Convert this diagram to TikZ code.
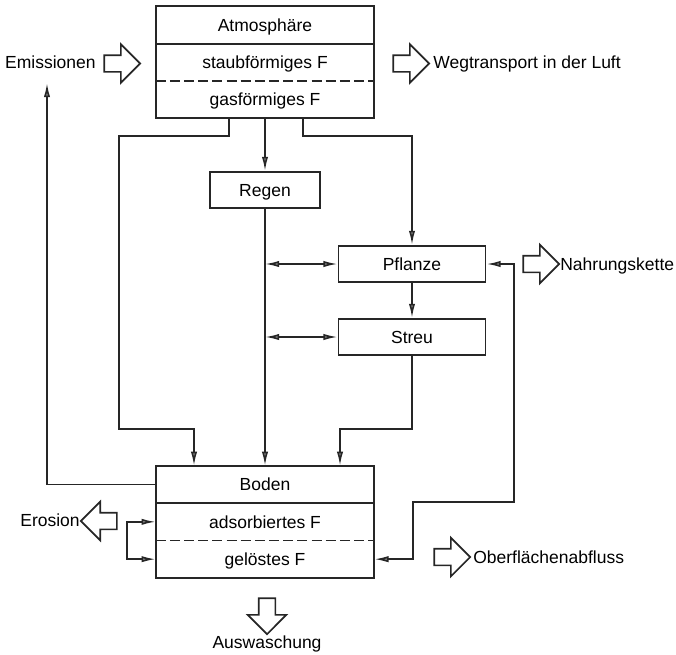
\documentclass[tikz,border=0pt]{standalone}
\usepackage{fontspec}
\setmainfont{Liberation Sans}
\usetikzlibrary{positioning,arrows.meta,shapes.arrows}
\begin{document}
\begin{tikzpicture}[x=0.6pt,y=-0.6pt,
    font=\fontsize{10.5}{12.6}\selectfont,
    layer/.style={rectangle,inner sep=0pt,minimum width=130.8pt,minimum height=22pt,text height=7.5pt,text depth=0pt},
    box/.style={draw=black!85,rectangle,line width=1.1pt,inner sep=0pt,minimum height=21.8pt,text height=7.5pt,text depth=0pt},
    fat/.style={single arrow,draw=black!85,line width=1pt,fill=white,inner sep=4.5pt,minimum height=21.6pt,single arrow head extend=6.6pt,single arrow tip angle=90},
    flow/.style={draw=black!85,line width=1pt,-{Latex[length=8.5pt,width=3.8pt,fill=black!40]}},
    both/.style={flow,{Latex[length=8.5pt,width=3.8pt,fill=black!40]}-{Latex[length=8.5pt,width=3.8pt,fill=black!40]}},
    lbl/.style={inner sep=0pt}
  ]
  \useasboundingbox (0,0) rectangle (676,654);

  \node[layer] (atmo) at (265,25) {Atmosphäre};
  \node[layer,below=0pt of atmo] (staub) {staubförmiges F};
  \node[layer,below=0pt of staub] (gas) {gasförmiges F};
  \draw[line width=1.1pt,draw=black!85] (atmo.north west) rectangle (gas.south east);
  \draw[line width=1.1pt,draw=black!85] (atmo.south west) -- (atmo.south east);
  \draw[line width=1.1pt,draw=black!85,dash pattern=on 6pt off 2.5pt] (staub.south west) -- (staub.south east);

  \node[layer] (boden) at (265,484.5) {Boden};
  \node[layer,below=0pt of boden] (adsorb) {adsorbiertes F};
  \node[layer,below=0pt of adsorb] (geloest) {gelöstes F};
  \draw[line width=1.1pt,draw=black!85] (boden.north west) rectangle (geloest.south east);
  \draw[line width=1.1pt,draw=black!85] (boden.south west) -- (boden.south east);
  \draw[line width=1.1pt,draw=black!85,dash pattern=on 6pt off 2.5pt] (adsorb.south west) -- (adsorb.south east);

  \node[box,minimum width=66pt] (regen) at (265,190) {Regen};
  \node[box,minimum width=88.2pt] (pflanze) at (412,264) {Pflanze};
  \node[box,minimum width=88.2pt] (streu) at (412,337) {Streu};

  \node[fat] (emarrow) at (118,63.5) {};
  \node[fat] (luftarrow) at (407,63.5) {};
  \node[fat] (kettearrow) at (537,264) {};
  \node[fat,shape border rotate=180] (eroarrow) at (103,521) {};
  \node[fat] (abflarrow) at (448,557) {};
  \node[fat,shape border rotate=270] (auswarrow) at (267,612) {};

  \node[lbl,anchor=base east] (emis) at (96,68) {Emissionen};
  \node[lbl,anchor=base west] (luft) at (433,68) {Wegtransport in der Luft};
  \node[lbl,anchor=base west] (kette) at (560,270) {Nahrungskette};
  \node[lbl,anchor=base east] (erosion) at (80,526) {Erosion};
  \node[lbl,anchor=base west] (abfluss) at (473,563) {Oberflächenabfluss};
  \node[lbl,anchor=base] (ausw) at (267,648) {Auswaschung};
  \coordinate (emisin) at (47,83);

  \draw[flow] (gas.south -| 229,0) |- (119,136) |- (194,429) -- (boden.north -| 194,0);
  \draw[flow] (gas.south) -- (regen.north);
  \draw[flow] (gas.south -| 303,0) |- (412,136) -- (pflanze.north);
  \draw[flow] (regen.south) -- (boden.north);
  \draw[both] (pflanze.west -| regen.south) -- (pflanze.west);
  \draw[both] (streu.west -| regen.south) -- (streu.west);
  \draw[flow] (pflanze.south) -- (streu.north);
  \draw[flow] (streu.south) |- (340,429) -- (boden.north -| 340,0);
  \draw[flow] (boden.west) -| (emisin);
  \draw[both] (adsorb.west) -- ++(-29,0) |- (geloest.west);
  \draw[both] (geloest.east) -| (413,502) -| (514,264) -- (pflanze.east);
\end{tikzpicture}
\end{document}
